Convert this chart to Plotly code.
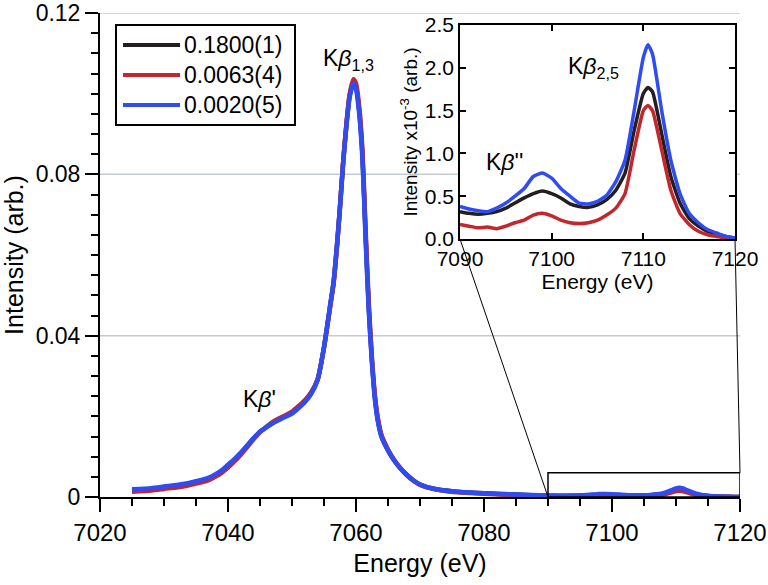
import plotly.graph_objects as go

# ---------------- data ----------------
series_names = ["0.1800(1)", "0.0063(4)", "0.0020(5)"]
series_colors = ["#231f20", "#c1272d", "#2f4cf2"]

# main-region energies (eV) and intensities (arb.)
energy_low = [7025, 7028, 7030, 7033, 7035, 7037, 7038, 7039, 7040, 7041,
              7042, 7043, 7044, 7045, 7046, 7047, 7048, 7049, 7050, 7051,
              7052, 7053, 7054, 7055, 7056, 7056.5, 7057, 7057.5, 7058, 7058.5,
              7059, 7059.6, 7060, 7060.5, 7061, 7061.5, 7062, 7062.5, 7063, 7063.5,
              7064, 7065, 7066, 7067, 7068, 7069, 7070, 7072, 7075, 7080, 7085]

black_low = [0.0017, 0.0020, 0.0024, 0.0030, 0.0037, 0.0046, 0.0054, 0.0064, 0.0078, 0.0092,
             0.0108, 0.0127, 0.0145, 0.0162, 0.0173, 0.0184, 0.0193, 0.0201, 0.0209, 0.0222,
             0.0237, 0.0258, 0.0291, 0.0371, 0.0478, 0.0532, 0.0618, 0.0719, 0.0831, 0.0922,
             0.0994, 0.1031, 0.1018, 0.0958, 0.0850, 0.0650, 0.0468, 0.0336, 0.0240, 0.0184,
             0.0150, 0.0116, 0.0090, 0.0070, 0.0054, 0.0041, 0.0031, 0.0021, 0.0014, 0.0009, 0.0006]
red_low = [0.0013, 0.0016, 0.0020, 0.0026, 0.0033, 0.0042, 0.0050, 0.0060, 0.0073, 0.0088,
           0.0105, 0.0124, 0.0143, 0.0161, 0.0174, 0.0186, 0.0195, 0.0203, 0.0212, 0.0225,
           0.0240, 0.0260, 0.0292, 0.0370, 0.0475, 0.0530, 0.0615, 0.0718, 0.0832, 0.0925,
           0.0998, 0.1036, 0.1025, 0.0968, 0.0862, 0.0662, 0.0478, 0.0343, 0.0245, 0.0188,
           0.0153, 0.0118, 0.0091, 0.0070, 0.0053, 0.0040, 0.0030, 0.0020, 0.0013, 0.0008, 0.0004]
blue_low = [0.0019, 0.0022, 0.0026, 0.0032, 0.0039, 0.0048, 0.0056, 0.0066, 0.0080, 0.0094,
            0.0110, 0.0128, 0.0146, 0.0162, 0.0173, 0.0183, 0.0191, 0.0199, 0.0207, 0.0220,
            0.0235, 0.0256, 0.0290, 0.0372, 0.0480, 0.0534, 0.0620, 0.0720, 0.0830, 0.0920,
            0.0990, 0.1026, 0.1012, 0.0950, 0.0840, 0.0640, 0.0460, 0.0330, 0.0235, 0.0180,
            0.0148, 0.0115, 0.0090, 0.0070, 0.0054, 0.0041, 0.0031, 0.0021, 0.0014, 0.0009, 0.0006]

# valence-to-core region (inset), intensities in units of 1e-3
energy_hi = [7090, 7091, 7092, 7093, 7094, 7095, 7096, 7097, 7098, 7099,
             7100, 7101, 7102, 7103, 7104, 7105, 7106, 7107, 7108, 7109,
             7110, 7110.5, 7111, 7112, 7113, 7114, 7115, 7116, 7117, 7118, 7119, 7120]
black_hi = [0.32, 0.30, 0.29, 0.30, 0.32, 0.36, 0.42, 0.48, 0.53, 0.56,
            0.53, 0.48, 0.41, 0.38, 0.37, 0.40, 0.46, 0.57, 0.77, 1.27,
            1.70, 1.77, 1.72, 1.23, 0.73, 0.42, 0.24, 0.15, 0.09, 0.06, 0.03, 0.01]
red_hi = [0.17, 0.15, 0.13, 0.14, 0.12, 0.15, 0.19, 0.22, 0.28, 0.30,
          0.27, 0.22, 0.19, 0.18, 0.19, 0.22, 0.28, 0.36, 0.53, 1.04,
          1.50, 1.56, 1.50, 1.04, 0.57, 0.30, 0.17, 0.09, 0.05, 0.03, 0.01, 0.00]
blue_hi = [0.38, 0.35, 0.33, 0.32, 0.36, 0.42, 0.50, 0.59, 0.73, 0.77,
           0.71, 0.59, 0.50, 0.42, 0.41, 0.44, 0.51, 0.67, 0.92, 1.50,
           2.12, 2.27, 2.16, 1.50, 0.92, 0.53, 0.30, 0.19, 0.11, 0.07, 0.03, 0.01]

main_yticks = [0, 0.04, 0.08, 0.12]
main_yticktext = ["0", "0.04", "0.08", "0.12"]
main_xticks = [7020, 7040, 7060, 7080, 7100, 7120]
inset_xticks = [7090, 7100, 7110, 7120]
inset_yticks = [0, 0.5, 1.0, 1.5, 2.0, 2.5]

lows = [black_low, red_low, blue_low]
his = [black_hi, red_hi, blue_hi]

FONT = "Arial, Liberation Sans, sans-serif"
W, H = 768, 585
ML, MR, MT, MB = 100, 28, 13, 88
PW, PH = W - ML - MR, H - MT - MB

def px_x(px):
    return (px - ML) / PW

def px_y(py):
    return (H - MB - py) / PH

fig = go.Figure()

# main traces
for name, col, lo, hi in zip(series_names, series_colors, lows, his):
    fig.add_trace(go.Scatter(
        x=energy_low + energy_hi, y=lo + [v / 1000 for v in hi],
        mode="lines", line=dict(color=col, width=4.5, shape="spline", smoothing=0.6),
        name=name, showlegend=False, xaxis="x", yaxis="y"))

# inset traces
for name, col, hi in zip(series_names, series_colors, his):
    fig.add_trace(go.Scatter(
        x=energy_hi, y=hi, mode="lines",
        line=dict(color=col, width=3.5, shape="spline", smoothing=0.5),
        name=name, showlegend=False, xaxis="x2", yaxis="y2"))

inset_x0, inset_x1 = px_x(460), px_x(735)
inset_y0, inset_y1 = px_y(239), px_y(25)

axis_common = dict(showline=True, linecolor="black", linewidth=2, automargin=False,
                   ticklabeloverflow="allow",
                   tickcolor="black", tickwidth=2, zeroline=False, showgrid=False)

fig.update_layout(
    width=W, height=H,
    margin=dict(l=ML, r=MR, t=MT, b=MB, autoexpand=False),
    paper_bgcolor="white", plot_bgcolor="white",
    font=dict(family=FONT, color="black"),
    xaxis=dict(domain=[0, 1], range=[7020, 7120], tickvals=main_xticks,
               ticks="outside", ticklen=13,
               minor=dict(dtick=5, ticks="outside", ticklen=7, tickwidth=2, tickcolor="black", showgrid=False),
               tickfont=dict(size=24), title=dict(text="Energy (eV)", font=dict(size=25), standoff=10),
               **axis_common),
    yaxis=dict(domain=[0, 1], range=[0, 0.12], tickvals=main_yticks, ticktext=main_yticktext,
               ticks="outside", ticklen=13,
               minor=dict(dtick=0.005, ticks="outside", ticklen=7, tickwidth=2, tickcolor="black", showgrid=False),
               tickfont=dict(size=23), title=dict(text="Intensity (arb.)", font=dict(size=25), standoff=8),
               **axis_common),
    xaxis2=dict(domain=[inset_x0, inset_x1], range=[7090, 7120], tickvals=inset_xticks,
                anchor="y2", ticks="inside", ticklen=6, mirror="allticks", automargin=False,
                ticklabeloverflow="allow",
                tickfont=dict(size=21), title=dict(text="Energy (eV)", font=dict(size=21), standoff=4),
                showline=True, linecolor="black", linewidth=1.5, tickcolor="black", tickwidth=1.5,
                zeroline=False, showgrid=False),
    yaxis2=dict(domain=[inset_y0, inset_y1], range=[0, 2.5], tickvals=inset_yticks, tickformat=".1f",
                anchor="x2", ticks="inside", ticklen=6, mirror="allticks", automargin=False,
                ticklabeloverflow="allow",
                tickfont=dict(size=21), title=dict(text="Intensity x10<sup>-3</sup> (arb.)", font=dict(size=19), standoff=2),
                showline=True, linecolor="black", linewidth=1.5, tickcolor="black", tickwidth=1.5,
                zeroline=False, showgrid=False),
)

shapes = []
grid_col = "#c3ccd1"
# horizontal grid lines of main plot (0.08 interrupted by the inset)
shapes.append(dict(type="line", xref="paper", yref="y", x0=0, x1=1, y0=0.04, y1=0.04,
                   line=dict(color=grid_col, width=1.5), layer="below"))
shapes.append(dict(type="line", xref="paper", yref="y", x0=0, x1=1, y0=0.12, y1=0.12,
                   line=dict(color=grid_col, width=1.5), layer="below"))
shapes.append(dict(type="line", xref="paper", yref="y", x0=0, x1=inset_x0, y0=0.08, y1=0.08,
                   line=dict(color=grid_col, width=1.5), layer="below"))
shapes.append(dict(type="line", xref="paper", yref="y", x0=inset_x1, x1=1, y0=0.08, y1=0.08,
                   line=dict(color=grid_col, width=1.5), layer="below"))

# zoom box on main plot
box_top = 0.006
shapes.append(dict(type="rect", xref="x", yref="y", x0=7090, x1=7120, y0=0, y1=box_top,
                   line=dict(color="black", width=1.5)))
# connector lines (paper coords)
shapes.append(dict(type="line", xref="paper", yref="paper",
                   x0=(7090 - 7020) / 100, y0=0, x1=inset_x0, y1=inset_y0,
                   line=dict(color="black", width=1)))
shapes.append(dict(type="line", xref="paper", yref="paper",
                   x0=1, y0=box_top / 0.12, x1=inset_x1, y1=inset_y0,
                   line=dict(color="black", width=1)))

# manual legend
shapes.append(dict(type="rect", xref="paper", yref="paper",
                   x0=px_x(116), x1=px_x(295), y0=px_y(125), y1=px_y(25),
                   line=dict(color="black", width=2), fillcolor="white"))
leg_y = [45, 75, 105]
annotations = []
for name, col, yy in zip(series_names, series_colors, leg_y):
    shapes.append(dict(type="line", xref="paper", yref="paper",
                       x0=px_x(123), x1=px_x(180), y0=px_y(yy), y1=px_y(yy),
                       line=dict(color=col, width=4)))
    annotations.append(dict(xref="paper", yref="paper", x=px_x(182), y=px_y(yy),
                            text=name, showarrow=False, xanchor="left", yanchor="middle",
                            font=dict(size=23, family=FONT, color="black")))

# peak labels
annotations.append(dict(xref="x", yref="y", x=7054.6, y=0.1085, text="K<i>β</i><sub>1,3</sub>",
                        showarrow=False, xanchor="left", yanchor="middle",
                        font=dict(size=23, family=FONT, color="black")))
annotations.append(dict(xref="x", yref="y", x=7042.0, y=0.0244, text="K<i>β</i>'",
                        showarrow=False, xanchor="left", yanchor="middle",
                        font=dict(size=23, family=FONT, color="black")))
annotations.append(dict(xref="x2", yref="y2", x=7101.6, y=2.0, text="K<i>β</i><sub>2,5</sub>",
                        showarrow=False, xanchor="left", yanchor="middle",
                        font=dict(size=23, family=FONT, color="black")))
annotations.append(dict(xref="x2", yref="y2", x=7092.6, y=0.9, text="K<i>β</i>''",
                        showarrow=False, xanchor="left", yanchor="middle",
                        font=dict(size=23, family=FONT, color="black")))

fig.update_layout(shapes=shapes, annotations=annotations)
fig.write_html("out.html", config={"displayModeBar": False},
               post_script="document.body.style.margin='0px';")
